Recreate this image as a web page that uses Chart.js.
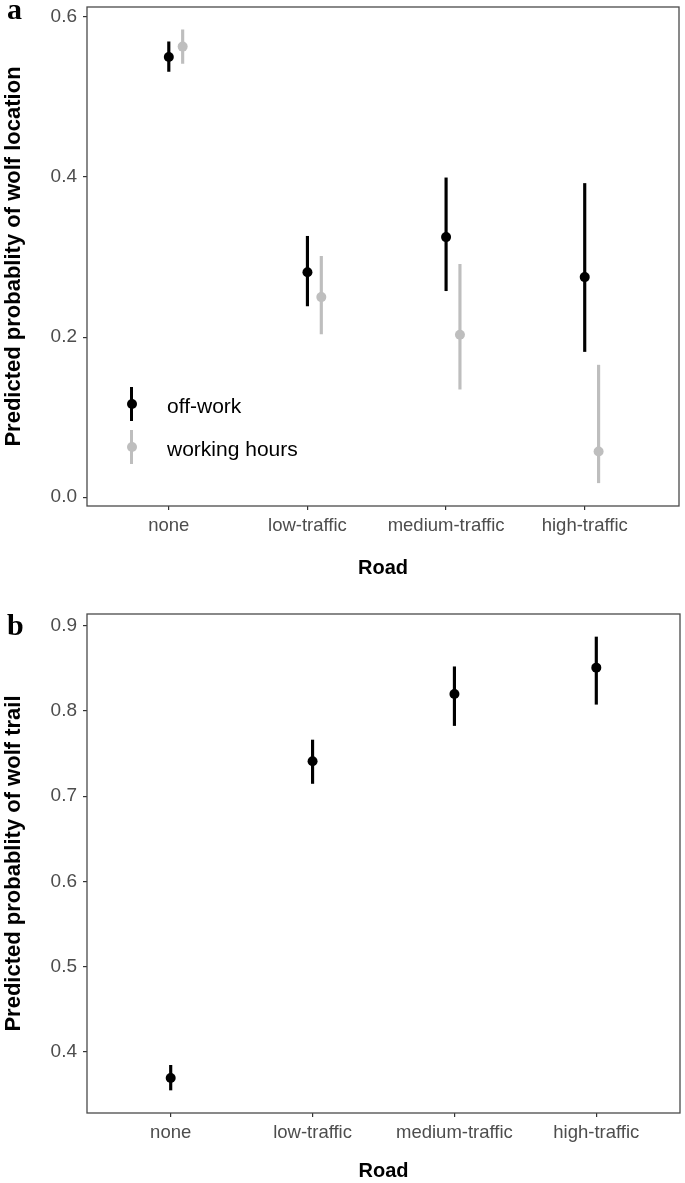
<!DOCTYPE html>
<html>
<head>
<meta charset="utf-8">
<script src="https://cdn.jsdelivr.net/npm/chart.js@4"></script>
<style>
  body { margin: 0; background: #fff; }
  #page { position: relative; width: 685px; height: 1183px; overflow: hidden; font-family: 'Liberation Sans', Arial, sans-serif; }
  canvas { position: absolute; left: 0; }
  .tag { position: absolute; font: bold 30px 'Liberation Serif', 'Times New Roman', serif; line-height: 30px; }
  .key { position: absolute; left: 118px; font-size: 21px; line-height: 24px; color: #000; }
  .key .bar { position: absolute; left: 12px; width: 2.5px; }
  .key .dot { position: absolute; left: 8.5px; width: 10px; height: 10px; border-radius: 50%; }
  .key span { position: absolute; left: 49px; white-space: nowrap; }
</style>
</head>
<body>
<div id="page">
  <canvas id="chartA" width="685" height="580" style="top:0"></canvas>
  <canvas id="chartB" width="685" height="593" style="top:590px"></canvas>
  <div class="tag" style="left:7px; top:-6px">a</div>
  <div class="tag" style="left:7px; top:610px">b</div>
  <div id="legend"></div>
</div>
<script>
// road categories on the x axis
const roads = ['none', 'low-traffic', 'medium-traffic', 'high-traffic']

// panel a: probability of wolf location, off-work vs working hours
const offWork = [0.550, 0.281, 0.325, 0.275]
const offWorkLow = [0.532, 0.239, 0.258, 0.182]
const offWorkHigh = [0.569, 0.326, 0.399, 0.392]
const workHours = [0.563, 0.250, 0.203, 0.057]
const workHoursLow = [0.542, 0.204, 0.135, 0.018]
const workHoursHigh = [0.584, 0.301, 0.291, 0.165]
const yTicksA = [0.0, 0.2, 0.4, 0.6]

// panel b: probability of wolf trail
const trail = [0.369, 0.741, 0.820, 0.851]
const trailLow = [0.355, 0.715, 0.783, 0.808]
const trailHigh = [0.384, 0.766, 0.852, 0.887]
const yTicksB = [0.4, 0.5, 0.6, 0.7, 0.8, 0.9]

const xTickFont = { family: 'Liberation Sans', size: 18.5 }
const yTickFont = { family: 'Liberation Sans', size: 19 }
const xTitleFont = { family: 'Liberation Sans', size: 20, weight: 'bold' }
const yTitleFont = { family: 'Liberation Sans', size: 22, weight: 'bold' }

// ggplot style frame round the plot area
const panelBorder = {
  id: 'panelBorder',
  afterDatasetsDraw(chart) {
    const { ctx, chartArea: a } = chart
    ctx.save()
    ctx.strokeStyle = '#4a4a4a'
    ctx.lineWidth = 1.3
    ctx.strokeRect(a.left, a.top, a.right - a.left, a.bottom - a.top)
    ctx.restore()
  }
}

// one series = a dot dataset plus a floating bar dataset for the interval
function series(values, low, high, color, dodge) {
  return [
    {
      type: 'scatter',
      data: values.map((v, i) => ({ x: i + 1 + dodge, y: v })),
      backgroundColor: color,
      borderWidth: 0,
      pointRadius: 5,
      order: 0
    },
    {
      type: 'bar',
      data: low.map((v, i) => ({ x: i + 1 + dodge, y: [v, high[i]] })),
      backgroundColor: color,
      barThickness: 2.5,
      grouped: false,
      order: 1
    }
  ]
}

function makeChart(id, datasets, opt) {
  return new Chart(document.getElementById(id), {
    type: 'scatter',
    data: { datasets: datasets },
    plugins: [panelBorder],
    options: {
      responsive: false,
      animation: false,
      events: [],
      layout: { padding: { top: opt.padTop, right: opt.padRight, left: 0, bottom: 0 } },
      plugins: { legend: { display: false }, tooltip: { enabled: false } },
      scales: {
        x: {
          type: 'linear',
          min: opt.xMin,
          max: opt.xMax,
          offset: false,
          afterBuildTicks: s => { s.ticks = roads.map((r, i) => ({ value: i + 1 })) },
          afterFit: s => { s.height = opt.xHeight; s.paddingLeft = 0; s.paddingRight = 0 },
          ticks: { callback: v => roads[v - 1], font: xTickFont, color: '#4d4d4d', padding: 5, autoSkip: false, maxRotation: 0 },
          grid: { drawOnChartArea: false, offset: false, tickLength: 4, color: '#333', lineWidth: 1.2 },
          border: { display: false },
          title: { display: true, text: 'Road', font: xTitleFont, color: '#000', padding: 0 }
        },
        y: {
          min: opt.yMin,
          max: opt.yMax,
          afterBuildTicks: s => { s.ticks = opt.yTicks.map(v => ({ value: v })) },
          afterFit: s => { s.width = 87; s.paddingTop = 0; s.paddingBottom = 0 },
          ticks: { callback: v => v.toFixed(1), font: yTickFont, color: '#4d4d4d', padding: 6 },
          grid: { drawOnChartArea: false, tickLength: 4, color: '#333', lineWidth: 1.2 },
          border: { display: false },
          title: { display: true, text: opt.yTitle, font: yTitleFont, color: '#000', padding: { top: 1, bottom: 0 } }
        }
      }
    }
  })
}

makeChart('chartA',
  series(offWork, offWorkLow, offWorkHigh, '#000000', 0)
    .concat(series(workHours, workHoursLow, workHoursHigh, '#bebebe', 0.1)),
  { padTop: 7, padRight: 6, xMin: 0.41, xMax: 4.68, xHeight: 74, yMin: -0.011, yMax: 0.6125,
    yTicks: yTicksA, yTitle: 'Predicted probablity of wolf location' })

makeChart('chartB',
  series(trail, trailLow, trailHigh, '#000000', 0),
  { padTop: 24, padRight: 4, xMin: 0.41, xMax: 4.59, xHeight: 70, yMin: 0.328, yMax: 0.914,
    yTicks: yTicksB, yTitle: 'Predicted probablity of wolf trail' })

// legend for panel a, placed inside the plot like in the figure
const legendItems = [
  { label: 'off-work', color: '#000000', top: 387 },
  { label: 'working hours', color: '#bebebe', top: 430 }
]
legendItems.forEach(item => {
  const el = document.createElement('div')
  el.className = 'key'
  el.style.top = item.top + 'px'
  el.innerHTML =
    '<div class="bar" style="top:0; height:34px; background:' + item.color + '"></div>' +
    '<div class="dot" style="top:12px; background:' + item.color + '"></div>' +
    '<span style="top:7px">' + item.label + '</span>'
  document.getElementById('legend').appendChild(el)
})
</script>
</body>
</html>
